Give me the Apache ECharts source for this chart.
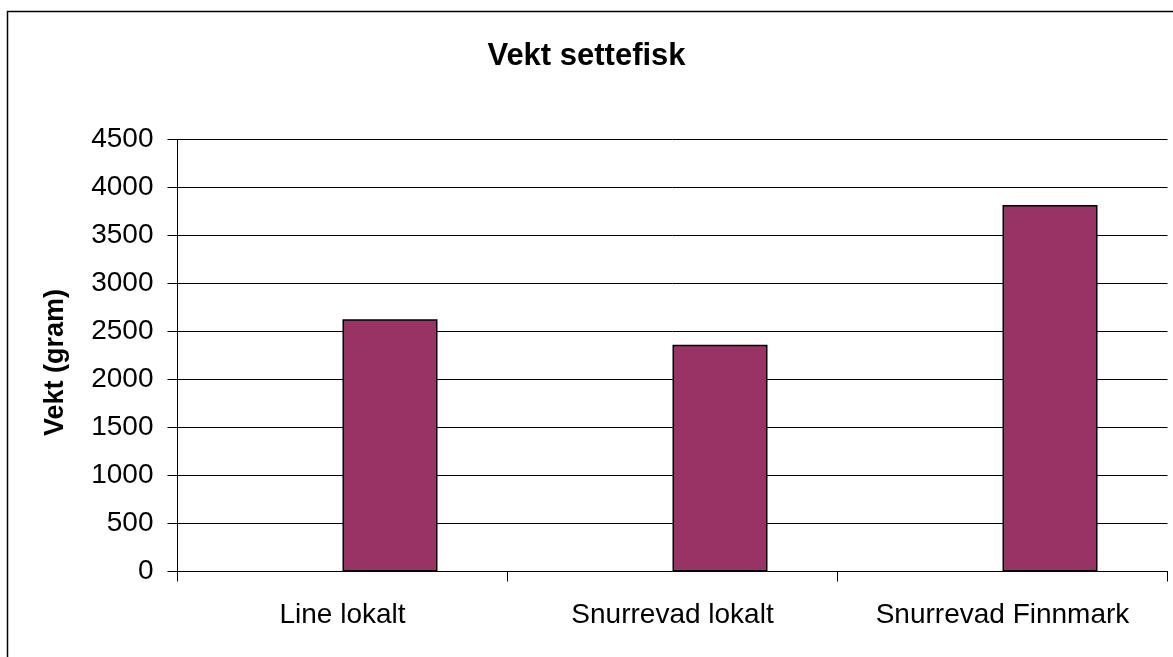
<!DOCTYPE html>
<html>
	<head>
		<meta charset="utf-8">
		<title>Vekt settefisk</title>
		<script src="https://cdn.jsdelivr.net/npm/echarts@6/dist/echarts.min.js"></script>
		<style>
			html, body {
				margin: 0;
				padding: 0;
				background: #fff;
			}

			#chart {
				width: 1173px;
				height: 657px;
			}
		</style>
	</head>
	<body>
		<div id="chart"></div>
		<script>
			// data
			var categories = ['Line lokalt', 'Snurrevad lokalt', 'Snurrevad Finnmark'];
			var placeholder = [null, null, null]; // empty first series, bars sit right of centre
			var vekt = [2627, 2362, 3819];
			var yTicks = [0, 500, 1000, 1500, 2000, 2500, 3000, 3500, 4000, 4500];

			var myChart = echarts.init(document.getElementById('chart'));
			var option = {
				animation: false,
				backgroundColor: '#fff',
				title: {
					text: 'Vekt settefisk',
					left: 'center',
					top: 36,
					textStyle: {
						fontFamily: 'Liberation Sans',
						fontWeight: 'bold',
						fontSize: 31,
						color: '#000'
					}
				},
				graphic: [{
					type: 'rect',
					shape: { x: 7.5, y: 11.5, width: 1200, height: 700 },
					style: { fill: 'none', stroke: '#000', lineWidth: 1.5 },
					silent: true
				}],
				grid: {
					left: 177.5,
					right: 5.5,
					top: 139.5,
					bottom: 85.5
				},
				xAxis: {
					type: 'category',
					data: categories,
					axisLine: { lineStyle: { color: '#000', width: 1 } },
					axisTick: { show: true, length: 10, lineStyle: { color: '#000' } },
					axisLabel: {
						margin: 30,
						fontFamily: 'Liberation Sans',
						fontSize: 28,
						color: '#000'
					}
				},
				yAxis: {
					type: 'value',
					min: yTicks[0],
					max: yTicks[yTicks.length - 1],
					interval: 500,
					name: 'Vekt (gram)',
					nameLocation: 'middle',
					nameGap: 108,
					nameTextStyle: {
						fontFamily: 'Liberation Sans',
						fontWeight: 'bold',
						fontSize: 27,
						color: '#000',
						padding: [0, 14, 0, 0]
					},
					axisLine: { show: true, lineStyle: { color: '#000', width: 1 } },
					axisTick: { show: true, length: 10, lineStyle: { color: '#000' } },
					axisLabel: {
						margin: 24,
						fontFamily: 'Liberation Sans',
						fontSize: 28,
						color: '#000',
						formatter: function(v) {
							return String(v);
						}
					},
					splitLine: { show: true, lineStyle: { color: '#000', width: 1 } }
				},
				series: [{
					name: 'placeholder',
					type: 'bar',
					data: placeholder,
					barWidth: 95,
					barGap: 0
				}, {
					name: 'Vekt',
					type: 'bar',
					data: vekt,
					barWidth: 95,
					barGap: 0,
					itemStyle: {
						color: '#993366',
						borderColor: '#000',
						borderWidth: 1.5
					}
				}]
			};
			option && myChart.setOption(option);
		</script>
	</body>
</html>
